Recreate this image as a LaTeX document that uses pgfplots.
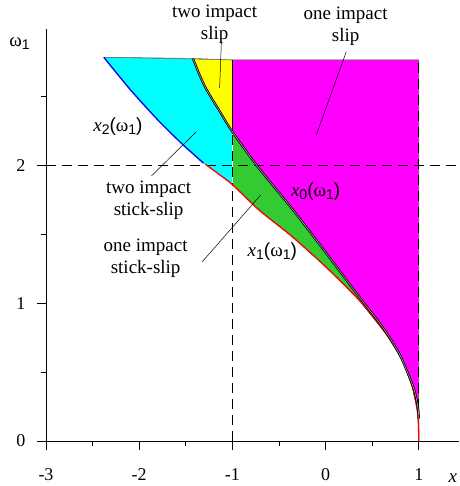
\documentclass[border=0pt]{standalone}
\usepackage{fontspec}
\setmainfont{Liberation Serif}
\setsansfont{Liberation Sans}
\newfontfamily\tnr{Liberation Serif}
\newfontfamily\arl{Liberation Sans}
\usepackage{pgfplots}
\pgfplotsset{compat=1.18}

\definecolor{regcyan}{RGB}{0,255,255}
\definecolor{regyellow}{RGB}{255,255,0}
\definecolor{regmagenta}{RGB}{255,0,255}
\definecolor{reggreen}{RGB}{50,204,50}

% label of the form x_k(omega_1)
\newcommand{\xlab}[1]{{\tnr\itshape x}\raisebox{-0.35ex}{\arl\fontsize{14}{14}\selectfont #1}{\arl(}{\tnr ω}\raisebox{-0.35ex}{\arl\fontsize{14}{14}\selectfont 1}{\arl)}}

\begin{document}
\begin{tikzpicture}
\begin{axis}[
  scale only axis, x=93.2pt, y=137.7pt,
  at={(46pt,45pt)}, anchor=south west,
  xmin=-3, xmax=1.43, ymin=0, ymax=2.99,
  axis lines=left, axis line style={-, line width=0.9pt},
  xtick={-3,-2,-1,0,1}, ytick={0,1,2},
  xticklabels={-3,-2,-1,0,1}, yticklabels={0,1,2},
  minor xtick={-2.5,-1.5,-0.5,0.5}, minor ytick={0.5,1.5,2.5},
  tick align=outside, major tick length=9pt, minor tick length=5pt,
  every tick/.style={black, line width=0.9pt},
  /pgf/number format/assume math mode=true,
  tick label style={font=\tnr\fontsize{18}{18}\selectfont},
  xticklabel style={yshift=-15pt},
  yticklabel style={xshift=-8pt},
  clip=false,
]
% two impact stick-slip
\addplot[fill=regcyan, draw=black!60, line width=0.4pt] coordinates {
  (-2.38,2.787) (-1.424,2.779) (-1.35,2.655) (-1.28,2.555) (-1.137,2.395) (-1,2.245)
  (-1,1.862) (-1.15,1.94) (-1.29,2.01) (-1.55,2.164) (-1.8,2.331) (-2.1,2.555)
} -- cycle;
% two impact slip
\addplot[fill=regyellow, draw=black!60, line width=0.4pt] coordinates {
  (-1.424,2.779) (-1,2.767) (-1,2.245) (-1.137,2.395) (-1.28,2.555) (-1.35,2.655)
} -- cycle;
% one impact slip
\addplot[fill=regmagenta, draw=black!60, line width=0.4pt] coordinates {
  (-1,2.767) (1,2.767) (1,0.165) (0.996,0.21) (0.983,0.274) (0.955,0.36) (0.912,0.443)
  (0.787,0.637) (0.608,0.830) (0.358,1.048) (0,1.37) (-0.358,1.685)
  (-0.715,1.98) (-1,2.245)
} -- cycle;
% one impact stick-slip
\addplot[fill=reggreen, draw=black, line width=0.4pt] coordinates {
  (-1,2.245) (-0.715,1.98) (-0.358,1.685) (0,1.37) (0.358,1.048)
  (0.608,0.830) (0.787,0.637) (0.912,0.443) (0.955,0.36) (0.983,0.274) (0.996,0.21)
  (1,0.165) (1,0) (0.996,0.12) (0.983,0.225) (0.93,0.394) (0.823,0.588)
  (0.644,0.782) (0.358,1.024) (0,1.266) (-0.358,1.484) (-0.715,1.678)
  (-1,1.862)
} -- cycle;

% reference lines
\addplot[black, line width=1.1pt, dash pattern=on 10pt off 6pt] coordinates {(-3,2) (1.43,2)};
\addplot[black, line width=1.1pt, dash pattern=on 10pt off 6pt] coordinates {(-1,0) (-1,1.862)};
\addplot[black, line width=1.1pt, dash pattern=on 10pt off 6pt] coordinates {(1,0) (1,2.767)};
\addplot[black, line width=1.2pt] coordinates {(-1,1.862) (-1,2.767)};
\addplot[white, line width=0.5pt, dash pattern=on 6pt off 10pt] coordinates {(-1,1.87) (-1,2.24)};

% boundary curves
\addplot[blue, line width=1.3pt, smooth, tension=0.5] coordinates {
  (-2.38,2.787) (-2.1,2.555) (-1.8,2.331) (-1.55,2.164) (-1.31,2.017)
};
\addplot[red, line width=1.3pt, smooth, tension=0.5] coordinates {
  (-1.29,2.01) (-1.15,1.94) (-1,1.862) (-0.715,1.678) (-0.358,1.484) (0,1.266)
  (0.358,1.024) (0.644,0.782) (0.823,0.588) (0.93,0.394) (0.983,0.225)
  (0.996,0.12) (1,0)
};
\addplot[black, line width=0.8pt, double=black!35, double distance=0.6pt, smooth, tension=0.5] coordinates {
  (-1.424,2.779) (-1.35,2.655) (-1.28,2.555) (-1.137,2.395) (-1,2.245) (-0.715,1.98)
  (-0.358,1.685) (0,1.37) (0.358,1.048) (0.608,0.830) (0.787,0.637)
  (0.912,0.443) (0.955,0.36) (0.983,0.274) (0.996,0.21) (1,0.165)
};
\addplot[black!60, line width=0.5pt] coordinates {(-2.38,2.787) (-1,2.767) (1,2.767)};

% pointers
\addplot[black, line width=0.5pt] coordinates {(-1.119,2.890) (-1.137,2.564)};
\addplot[black, line width=0.5pt] coordinates {(0.222,2.827) (-0.100,2.222)};
\addplot[black, line width=0.5pt] coordinates {(-1.870,1.924) (-1.387,2.246)};
\addplot[black, line width=0.5pt] coordinates {(-1.323,1.302) (-0.697,1.786)};

% annotations
\begin{scope}[every node/.style={font=\tnr\fontsize{19}{22}\selectfont, align=center, inner sep=0pt}]
\node at (axis cs:-1.191,3.028) {two impact\\slip};
\node at (axis cs:0.215,3.014) {one impact\\slip};
\node at (axis cs:-1.899,1.750) {two impact\\stick-slip};
\node at (axis cs:-1.931,1.329) {one impact\\stick-slip};
\node at (axis cs:-2.228,2.283) {\xlab{2}};
\node at (axis cs:-0.107,1.810) {\xlab{0}};
\node at (axis cs:-0.572,1.375) {\xlab{1}};
\node at (axis cs:-3.283,2.883) {ω\raisebox{-0.35ex}{\arl\fontsize{14}{14}\selectfont 1}};
\node at (axis cs:1.365,-0.27) {\itshape x};
\end{scope}
\end{axis}
\pgfresetboundingbox
\path (0,0) rectangle (459pt,486pt);
\end{tikzpicture}
\end{document}
